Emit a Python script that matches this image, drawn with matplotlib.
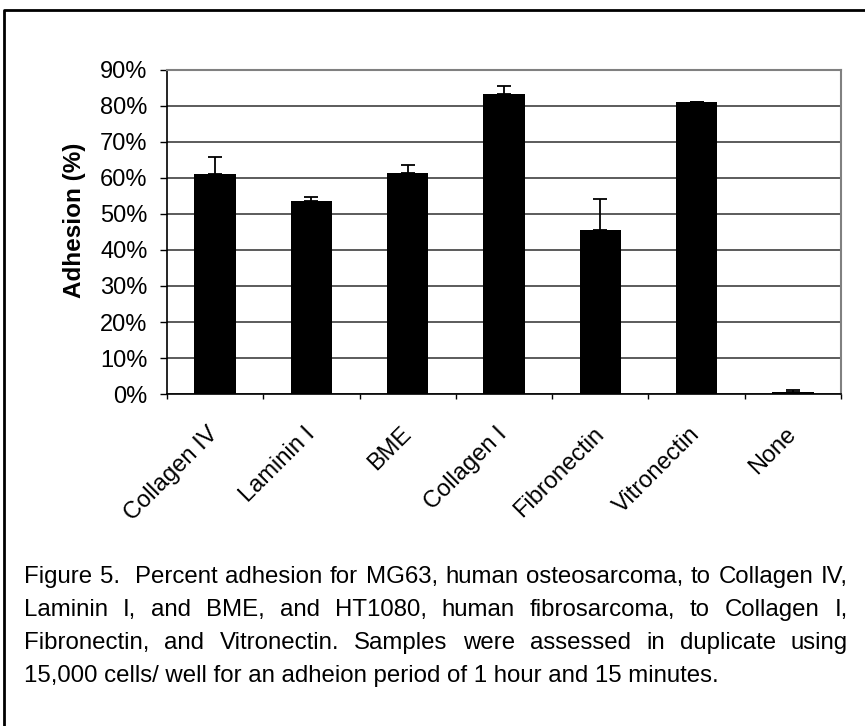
import numpy as np
import matplotlib.pyplot as plt
from matplotlib.lines import Line2D
from matplotlib.transforms import ScaledTranslation

plt.rcParams['font.family'] = ['Liberation Sans', 'DejaVu Sans']

# data
categories = ['Collagen IV', 'Laminin I', 'BME', 'Collagen I',
              'Fibronectin', 'Vitronectin', 'None']
adhesion = [61.0, 53.7, 61.5, 83.4, 45.6, 81.2, 0.65]
err_plus = [4.7, 1.0, 2.1, 2.1, 8.6, 0.0, 0.4]
y_ticks = [0, 10, 20, 30, 40, 50, 60, 70, 80, 90]

caption = [
    "Figure 5.  Percent adhesion for MG63, human osteosarcoma, to Collagen IV,",
    "Laminin I, and BME, and HT1080, human fibrosarcoma, to Collagen I,",
    "Fibronectin, and Vitronectin. Samples were assessed in duplicate using",
    "15,000 cells/ well for an adheion period of 1 hour and 15 minutes.",
]

W, H = 865, 726
FS = 17
fig = plt.figure(figsize=(W / 100, H / 100), dpi=100)
ax = fig.add_axes([167 / W, 1 - 394 / H, (841 - 167) / W, (394 - 70) / H])

x = np.arange(len(categories))
ax.bar(x, adhesion, width=0.43, color='black', zorder=3)
ax.errorbar(x, adhesion, yerr=[np.zeros(len(x)), err_plus], fmt='none',
            ecolor='black', elinewidth=1.3, capsize=5, capthick=1.3, zorder=4)

ax.set_xlim(-0.5, len(categories) - 0.5)
ax.set_ylim(0, 90)
ax.set_yticks(y_ticks)
ax.set_yticklabels([f'{v}%' for v in y_ticks], fontsize=FS)
ax.yaxis.grid(True, color='#404040', linewidth=1.2, zorder=0)

ax.set_xticks(x)
ax.set_xticklabels(categories, fontsize=FS, rotation=45, ha='right',
                   va='center', rotation_mode='anchor')
shift = ScaledTranslation(-15 / 100, 0, fig.dpi_scale_trans)
for lbl in ax.get_xticklabels():
    lbl.set_transform(lbl.get_transform() + shift)
ax.tick_params(axis='x', which='major', length=0, pad=26.5)
ax.set_xticks(np.arange(len(categories) + 1) - 0.5, minor=True)
ax.tick_params(axis='x', which='minor', length=3.6, width=1, color='black')
ax.tick_params(axis='y', length=5, width=1, color='black', pad=9)

for side in ['top', 'right']:
    ax.spines[side].set_color('#808080')
    ax.spines[side].set_linewidth(1.5)
ax.spines['left'].set_linewidth(1.2)
ax.spines['bottom'].set_linewidth(1.2)

ax.set_ylabel('Adhesion (%)', fontsize=FS + 0.5, fontweight='bold')
ax.yaxis.label.set_va('center')
ax.yaxis.set_label_coords((74 - 167) / 674, (394 - 220) / 324)

# frame around the figure (runs off the right and bottom edges)
fx, fy = 4 / W, 1 - 10 / H
fig.add_artist(Line2D([fx, fx, 1.05], [-0.05, fy, fy], color='black',
                      linewidth=2, transform=fig.transFigure))

# justified caption
CFS = 17.3
renderer = fig.canvas.get_renderer()
left, right = 24, 848
line_y = [577, 610, 643, 676]
for i, (line, yy) in enumerate(zip(caption, line_y)):
    yf = 1 - yy / H
    if i == len(caption) - 1:
        fig.text(left / W, yf, line, fontsize=CFS, va='center', ha='left')
        continue
    words = line.split(' ')
    texts = [fig.text(0, yf, w, fontsize=CFS, va='center', ha='left')
             for w in words]
    widths = [t.get_window_extent(renderer).width if w else 0
              for t, w in zip(texts, words)]
    gap = (right - left - sum(widths)) / (len(words) - 1)
    pos = left
    for t, wdt in zip(texts, widths):
        t.set_x(pos / W)
        pos += wdt + gap

fig.savefig('out.png', dpi=100)
